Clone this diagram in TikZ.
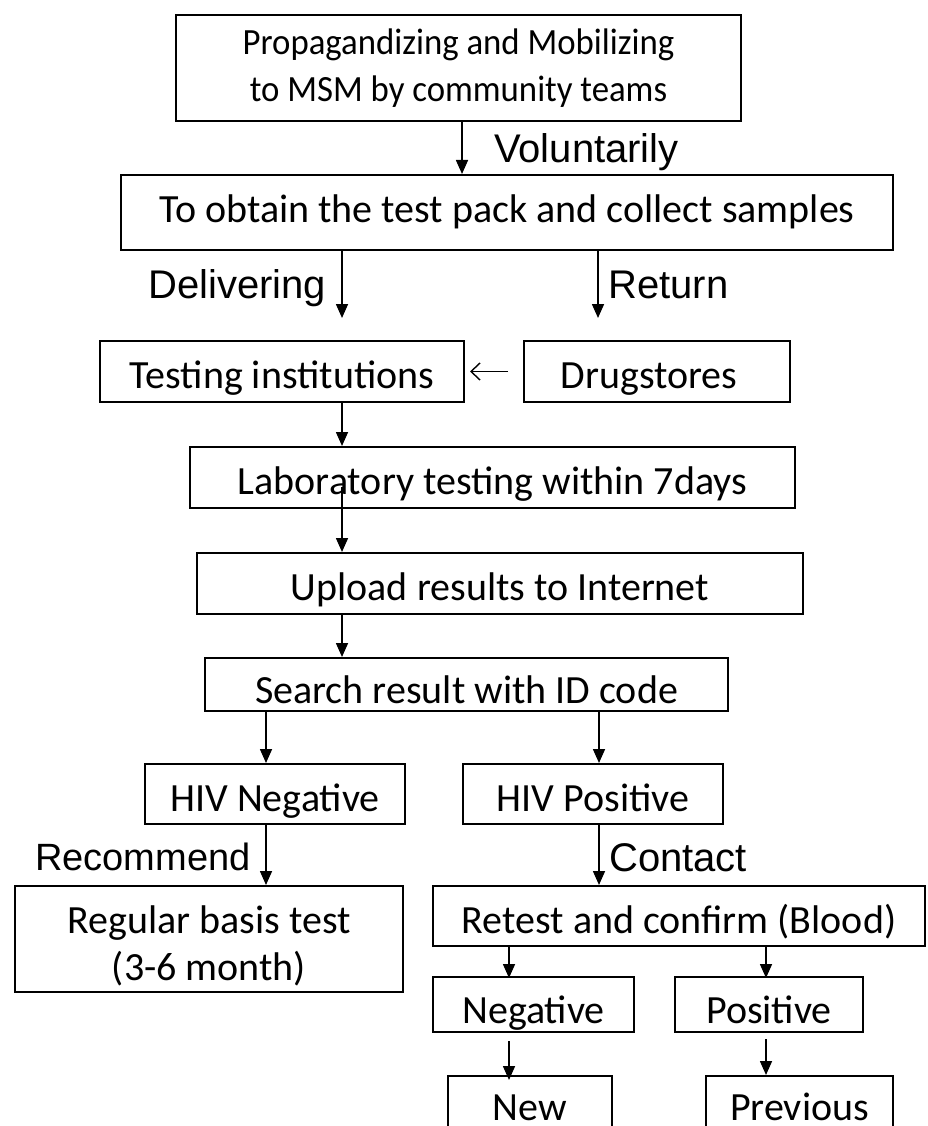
\documentclass[tikz,border=0pt]{standalone}
\usepackage{fontspec}
\newfontfamily\calibri{Carlito}
\newfontfamily\calibrinarrow[FakeStretch=0.94]{Carlito}
\newfontfamily\arialf{Liberation Sans}
\usetikzlibrary{arrows.meta}
\tikzset{box/.style={draw, line width=2pt, inner sep=0pt, align=center, text height=42pt, text depth=8pt, font=\calibri\fontsize{40}{47}\selectfont}}
\tikzset{lbl/.style={inner sep=0pt, font=\arialf\fontsize{40}{46}\selectfont}}
\tikzset{flow/.style={line width=1.6pt, -{Triangle[width=12pt,length=14pt]}}}
\tikzset{back/.style={line width=1.4pt, -{Straight Barb[width=17pt,length=9pt]}}}

\begin{document}
\begin{tikzpicture}[x=1pt,y=-1pt]

\useasboundingbox (0,0) rectangle (927,1126);
\clip (0,0) rectangle (927,1126);

\node[box,minimum width=565pt,minimum height=106pt,text height=76pt,font=\calibrinarrow\fontsize{37}{47}\selectfont] (propaganda) at (458.5,68) {Propagandizing and Mobilizing\\to MSM by community teams};
\node[box,minimum width=772pt,minimum height=75pt,text height=27pt] (obtain) at (507,212.5) {To obtain the test pack and collect samples};
\node[box,minimum width=364pt,minimum height=61pt,text height=41pt] (institutions) at (282,371.5) {Testing institutions};
\node[box,minimum width=266pt,minimum height=61pt,text height=41pt] (drugstores) at (657,371.5) {\hspace*{-16pt}Drugstores};
\node[box,minimum width=605pt,minimum height=61pt] (laboratory) at (492.5,477.5) {Laboratory testing within 7days};
\node[box,minimum width=606pt,minimum height=61pt] (upload) at (500,583.5) {Upload results to Internet};
\node[box,minimum width=523pt,minimum height=53pt,text height=45pt] (search) at (466.5,684.5) {Search result with ID code};
\node[box,minimum width=260pt,minimum height=60pt] (hivneg) at (275,794) {HIV Negative};
\node[box,minimum width=260pt,minimum height=60pt] (hivpos) at (593,794) {HIV Positive};
\node[box,minimum width=388pt,minimum height=106pt,text height=90pt] (regular) at (209,939) {Regular basis test\\(3-6 month)};
\node[box,minimum width=492pt,minimum height=60pt] (retest) at (679,916) {Retest and confirm (Blood)};
\node[box,minimum width=201pt,minimum height=55pt,text height=45pt] (negative) at (533.5,1004.5) {Negative};
\node[box,minimum width=188pt,minimum height=55pt,text height=45pt] (positive) at (769,1004.5) {Positive};
\node[box,minimum width=164pt,minimum height=70pt,text height=26pt] (new) at (530,1111) {New};
\node[box,minimum width=187pt,minimum height=70pt,text height=26pt] (previous) at (799.5,1111) {Previous};

\node[lbl,anchor=base west] (voluntarily) at (494,163) {Voluntarily};
\node[lbl,anchor=base west] (delivering) at (148,298) {Delivering};
\node[lbl,anchor=base west] (return) at (608,298) {Return};
\node[lbl,anchor=base west,font=\arialf\fontsize{38}{44}\selectfont] (recommend) at (35,870) {Recommend};
\node[lbl,anchor=base west] (contact) at (609,871) {Contact};

\coordinate (dl) at (342,318);
\coordinate (rt) at (598,318);
\coordinate (labin) at (342,487);
\coordinate (cneg) at (266,0);
\coordinate (cpos) at (599,0);
\coordinate (cn) at (509,0);
\coordinate (cp) at (766,0);

\draw[flow] (propaganda.south -| 462,0) -- (obtain.north -| 462,0);
\draw[flow] (dl |- obtain.south) -- (dl);
\draw[flow] (rt |- obtain.south) -- (rt);
\draw[back,shorten <=15pt,shorten >=5pt] (drugstores.west) -- (institutions.east);
\draw[flow] (dl |- institutions.south) -- (dl |- laboratory.north);
\draw[flow] (labin) -- (labin |- upload.north);
\draw[flow] (dl |- upload.south) -- (dl |- search.north);
\draw[flow] (cneg |- search.south) -- (cneg |- hivneg.north);
\draw[flow] (cpos |- search.south) -- (cpos |- hivneg.north);
\draw[flow] (cneg |- hivneg.south) -- (cneg |- regular.north);
\draw[flow] (cpos |- hivpos.south) -- (cpos |- retest.north);
\draw[flow,shorten >=-2pt] (cn |- retest.south) -- (cn |- negative.north);
\draw[flow,shorten >=-2pt] (cp |- retest.south) -- (cp |- positive.north);
\draw[flow,shorten <=8pt,shorten >=-5pt] (cn |- negative.south) -- (cn |- new.north);
\draw[flow,shorten <=6pt] (cp |- positive.south) -- (cp |- previous.north);

\end{tikzpicture}
\end{document}
